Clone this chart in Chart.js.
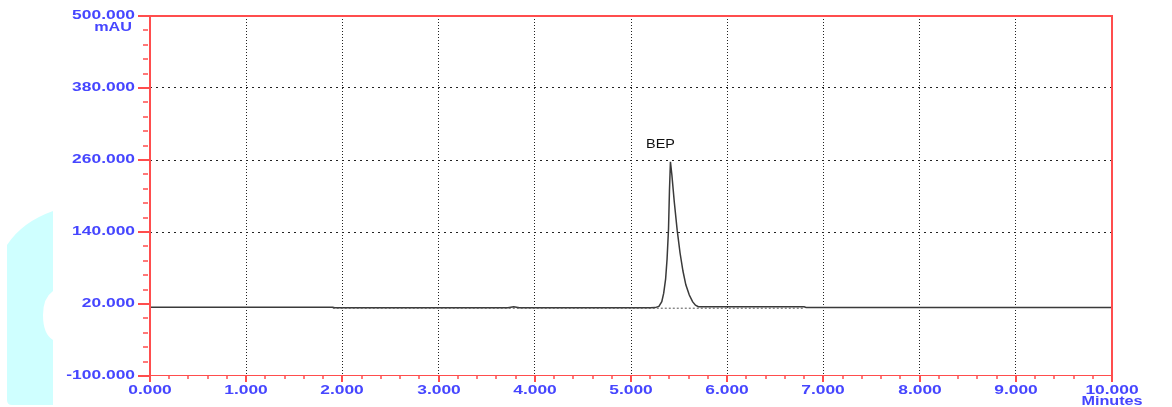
<!DOCTYPE html>
<html>
<head>
<meta charset="utf-8">
<script src="https://cdn.jsdelivr.net/npm/chart.js@4.4.0/dist/chart.umd.min.js"></script>
<style>
  html, body { margin: 0; padding: 0; background: #fff; }
  #wrap { position: relative; width: 1172px; height: 407px; }
  #wrap svg, #wrap canvas { position: absolute; left: 0; top: 0; }
</style>
</head>
<body>
<div id="wrap">
  <svg width="1172" height="407">
    <path d="M7,400 L7,245 Q22,222 53,211 L53,291 Q43,298 43,315 Q43,334 53,340 L53,405 L12,405 Q7,405 7,400 Z" fill="#cfffff"/>
  </svg>
  <canvas id="myChart" width="1172" height="407"></canvas>
</div>
<script>
// trace: retention time (min) vs detector response (mAU)
const retentionMin = [0, 1.9, 1.92, 3.72, 3.78, 3.84, 5.2, 5.25, 5.29, 5.32, 5.34, 5.36, 5.375, 5.39, 5.40, 5.41,
    5.425, 5.45, 5.48, 5.51, 5.54, 5.57, 5.606, 5.64, 5.67, 5.70, 5.75, 6.8, 6.82, 10];
const absorbanceMAU = [14.5, 14.5, 13.8, 13.8, 15.2, 13.8, 13.8, 14, 16, 24, 38, 62, 95, 145, 210, 257,
    235, 190, 143, 105, 75, 52, 35, 24, 18, 15.5, 15.5, 15.5, 14.3, 14.3];

// integration baseline under the peak
const baselineMin = [1.9, 6.8];
const baselineMAU = [13, 13];

const peakName = 'BEP';

const yMin = -100, yMax = 500, yMajor = 120, yMinor = 24;
const xMin = 0, xMax = 10, xMinor = 0.2;

const RED = '#ff4d4d';
const BLUE = '#4646ff';

function isMajorY(v) { return ((v - yMin) % yMajor) === 0; }
function isMajorX(v) { return Math.abs(v - Math.round(v)) < 1e-6; }

function stretchText(ctx, text, x, y, align, sx) {
    ctx.save();
    ctx.translate(x, y);
    ctx.scale(sx, 1);
    ctx.textAlign = align;
    ctx.textBaseline = 'middle';
    ctx.fillText(text, 0, 0);
    ctx.restore();
}

const axisPlugin = {
    id: 'axisPlugin',
    afterDraw(chart) {
        const ctx = chart.ctx;
        const xs = chart.scales.x, ys = chart.scales.y;
        const a = chart.chartArea;
        ctx.save();
        ctx.strokeStyle = RED;
        // left axis + top and right frame
        ctx.lineWidth = 2;
        ctx.beginPath();
        ctx.moveTo(a.left, a.bottom);
        ctx.lineTo(a.left, a.top);
        ctx.lineTo(a.right, a.top);
        ctx.lineTo(a.right, a.bottom);
        ctx.stroke();
        ctx.lineWidth = 1;
        ctx.beginPath();
        ctx.moveTo(a.left, a.bottom - 0.5);
        ctx.lineTo(a.right, a.bottom - 0.5);
        ctx.stroke();

        ctx.font = 'bold 12px "Liberation Sans", Arial, sans-serif';
        ctx.fillStyle = BLUE;

        // y ticks and labels
        ys.ticks.forEach(t => {
            const y = Math.round(ys.getPixelForValue(t.value));
            const major = isMajorY(t.value);
            ctx.strokeStyle = RED;
            ctx.lineWidth = major ? 2 : 1.5;
            ctx.beginPath();
            ctx.moveTo(a.left - (major ? 12 : 7), y);
            ctx.lineTo(a.left - (major ? 0 : 2), y);
            ctx.stroke();
            if (major) stretchText(ctx, t.value.toFixed(3), a.left - 15, y, 'right', 1.45);
        });
        stretchText(ctx, 'mAU', a.left - 18, a.top + 12, 'right', 1.35);

        // x ticks and labels
        xs.ticks.forEach(t => {
            const x = Math.round(xs.getPixelForValue(t.value));
            const major = isMajorX(t.value);
            ctx.strokeStyle = RED;
            ctx.lineWidth = major ? 2 : 1.5;
            ctx.beginPath();
            ctx.moveTo(x, a.bottom);
            ctx.lineTo(x, a.bottom + (major ? 6 : 3));
            ctx.stroke();
            if (major) stretchText(ctx, Math.round(t.value).toFixed(3), x, a.bottom + 15, 'center', 1.45);
        });
        stretchText(ctx, 'Minutes', a.right, a.bottom + 26, 'center', 1.35);

        // peak name above the apex
        let iMax = 0;
        absorbanceMAU.forEach((v, i) => { if (v > absorbanceMAU[iMax]) iMax = i; });
        const px = xs.getPixelForValue(retentionMin[iMax]);
        const py = ys.getPixelForValue(absorbanceMAU[iMax]);
        ctx.font = '12px "Liberation Sans", Arial, sans-serif';
        ctx.fillStyle = '#111';
        stretchText(ctx, peakName, px - 10, py - 17, 'center', 1.2);
        ctx.restore();
    }
};

const ctx = document.getElementById('myChart');
const chart = new Chart(ctx, {
    type: 'line',
    data: {
        datasets: [
            {
                label: 'baseline',
                data: baselineMin.map((t, i) => ({ x: t, y: baselineMAU[i] })),
                borderColor: '#555',
                borderWidth: 1,
                borderDash: [2, 2],
                pointRadius: 0,
                tension: 0
            },
            {
                label: peakName,
                data: retentionMin.map((t, i) => ({ x: t, y: absorbanceMAU[i] })),
                borderColor: '#3a3a3a',
                borderWidth: 1.5,
                pointRadius: 0,
                tension: 0
            }
        ]
    },
    options: {
        responsive: false,
        animation: false,
        events: [],
        layout: { padding: { left: 150, right: 60, top: 16, bottom: 31 } },
        plugins: { legend: { display: false }, tooltip: { enabled: false }, title: { display: false } },
        scales: {
            x: {
                type: 'linear',
                min: xMin,
                max: xMax,
                afterFit(scale) { scale.height = 0; },
                ticks: { display: false, stepSize: xMinor, maxTicksLimit: 200, autoSkip: false },
                border: { display: false, dash: [1, 2] },
                grid: {
                    drawTicks: false,
                    lineWidth: 1,
                    color: c => (isMajorX(c.tick.value) && c.tick.value > xMin && c.tick.value < xMax) ? '#222' : 'rgba(0,0,0,0)'
                }
            },
            y: {
                type: 'linear',
                min: yMin,
                max: yMax,
                afterFit(scale) { scale.width = 0; },
                ticks: { display: false, stepSize: yMinor, maxTicksLimit: 200, autoSkip: false },
                border: { display: false, dash: [2, 4] },
                grid: {
                    drawTicks: false,
                    lineWidth: 1,
                    color: c => (isMajorY(c.tick.value) && c.tick.value > 20 && c.tick.value < yMax) ? '#222' : 'rgba(0,0,0,0)'
                }
            }
        }
    },
    plugins: [axisPlugin]
});
</script>
</body>
</html>
